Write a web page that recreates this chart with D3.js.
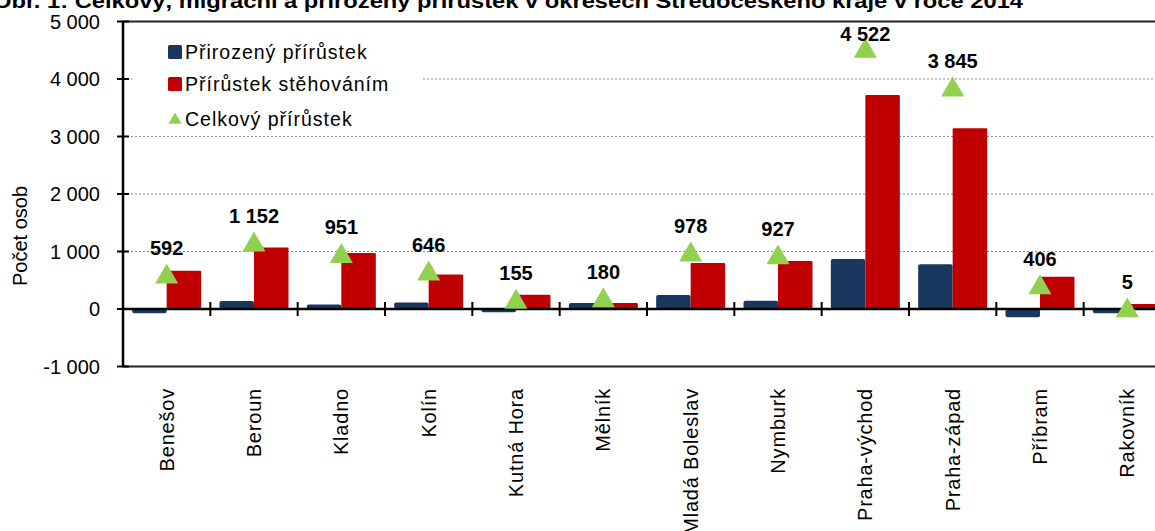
<!DOCTYPE html>
<html>
<head>
<meta charset="utf-8">
<script src="https://cdn.jsdelivr.net/npm/d3@7"></script>
<style>
  body { margin: 0; background: #fff; }
  svg { display: block; font-family: Arial, "Liberation Sans", sans-serif; }
</style>
</head>
<body>
<svg id="chart" width="1155" height="531"></svg>
<script>
// okresy Středočeského kraje
var districts = ["Benešov", "Beroun", "Kladno", "Kolín", "Kutná Hora", "Mělník",
  "Mladá Boleslav", "Nymburk", "Praha-východ", "Praha-západ", "Příbram", "Rakovník"];

// values
var natural   = [-74, 140, 80, 115, -55, 105, 245, 145, 870, 777, -145, -75];
var migration = [666, 1070, 975, 600, 250, 105, 800, 835, 3722, 3142, 562, 87];
var total     = [592, 1152, 951, 646, 155, 180, 978, 927, 4522, 3845, 406, 5];

var yTicks = [-1000, 0, 1000, 2000, 3000, 4000, 5000];
var seriesNames = ["Přirozený přírůstek", "Přírůstek stěhováním", "Celkový přírůstek"];

var blue = "#17375e", red = "#c00000", green = "#92d050";

var svg = d3.select("#chart");
var plotLeft = 123, plotRight = 1171, plotTop = 21.5, plotBottom = 366.5;

var y = d3.scaleLinear().domain([-1000, 5000]).range([plotBottom, plotTop]);
var x = d3.scaleBand().domain(districts).range([plotLeft, plotRight]);
var bw = 34.5;
var inner = (x.bandwidth() - 2 * bw) / 2;

var fmt = function(v) {
  return d3.format(",")(v).replace(/,/g, "\u00a0").replace("\u2212", "-");
};

// title (cut off at the top)
svg.append("text")
  .attr("x", -7).attr("y", 8)
  .attr("font-size", 21).attr("font-weight", "bold")
  .attr("textLength", 1030).attr("lengthAdjust", "spacingAndGlyphs")
  .text("Obr. 1: Celkový, migrační a přirozený přírůstek v okresech Středočeského kraje v roce 2014");

// gridlines
svg.append("g").selectAll("line")
  .data([1000, 2000, 3000, 4000])
  .join("line")
  .attr("x1", plotLeft).attr("x2", 1155)
  .attr("y1", function(d) { return y(d); }).attr("y2", function(d) { return y(d); })
  .attr("stroke", "#8c8c8c").attr("stroke-width", 1.2).attr("stroke-dasharray", "2,2");

// top and bottom frame lines
[5000, -1000].forEach(function(v) {
  svg.append("line")
    .attr("x1", plotLeft).attr("x2", 1155)
    .attr("y1", y(v)).attr("y2", y(v))
    .attr("stroke", "#222").attr("stroke-width", 2);
});

// bars
var g = svg.append("g");
districts.forEach(function(d, i) {
  var x0 = x(d) + inner;
  g.append("rect")
    .attr("x", x0).attr("width", bw)
    .attr("y", y(Math.max(0, natural[i])))
    .attr("height", Math.abs(y(natural[i]) - y(0)))
    .attr("rx", 2)
    .attr("fill", blue);
  g.append("rect")
    .attr("x", x0 + bw).attr("width", bw)
    .attr("y", y(Math.max(0, migration[i])))
    .attr("height", Math.abs(y(migration[i]) - y(0)))
    .attr("rx", 1)
    .attr("fill", red);
});

// y axis
var yAxis = svg.append("g");
yAxis.append("line")
  .attr("x1", plotLeft).attr("x2", plotLeft).attr("y1", plotTop).attr("y2", plotBottom)
  .attr("stroke", "#000").attr("stroke-width", 2.5);
yAxis.selectAll("line.tick")
  .data(yTicks)
  .join("line")
  .attr("class", "tick")
  .attr("x1", plotLeft - 6).attr("x2", plotLeft + 6)
  .attr("y1", function(d) { return y(d); }).attr("y2", function(d) { return y(d); })
  .attr("stroke", "#000").attr("stroke-width", 2);
yAxis.selectAll("text")
  .data(yTicks)
  .join("text")
  .attr("x", 100)
  .attr("y", function(d) { return y(d) + 7; })
  .attr("text-anchor", "end")
  .attr("font-size", 20)
  .text(fmt);

svg.append("text")
  .attr("transform", "translate(27,236) rotate(-90)")
  .attr("text-anchor", "middle")
  .attr("font-size", 20)
  .text("Počet osob");

// x axis at zero
svg.append("line")
  .attr("x1", plotLeft).attr("x2", 1155)
  .attr("y1", y(0)).attr("y2", y(0))
  .attr("stroke", "#000").attr("stroke-width", 2.5);
svg.append("g").selectAll("line")
  .data(districts.slice(1))
  .join("line")
  .attr("x1", function(d) { return x(d); }).attr("x2", function(d) { return x(d); })
  .attr("y1", y(0) - 7).attr("y2", y(0) + 7)
  .attr("stroke", "#000").attr("stroke-width", 2);

svg.append("g").selectAll("text")
  .data(districts)
  .join("text")
  .attr("transform", function(d) {
    return "translate(" + (x(d) + x.bandwidth() / 2 + 7) + ",388) rotate(-90)";
  })
  .attr("text-anchor", "end")
  .attr("font-size", 20)
  .attr("letter-spacing", 0.8)
  .text(function(d) { return d; });

// total markers and labels
var tri = d3.symbol().type(d3.symbolTriangle).size(230);
districts.forEach(function(d, i) {
  var cx = x(d) + inner + bw;
  var cy = y(total[i]);
  svg.append("path")
    .attr("d", tri)
    .attr("transform", "translate(" + cx + "," + (cy + 2) + ")")
    .attr("fill", green);
  svg.append("text")
    .attr("x", cx).attr("y", Math.max(cy - 20, y(5000) + 19))
    .attr("text-anchor", "middle")
    .attr("font-size", 20).attr("font-weight", "bold")
    .text(fmt(total[i]));
});

// legend
var lg = svg.append("g");
lg.append("rect")
  .attr("x", 132).attr("y", 30).attr("width", 290).attr("height", 103)
  .attr("fill", "#fff");
[52, 84, 119].forEach(function(ly, i) {
  if (i < 2) {
    lg.append("rect")
      .attr("x", 168).attr("y", ly - 7).attr("width", 14).attr("height", 14)
      .attr("rx", 1.5)
      .attr("fill", i === 0 ? blue : red);
  } else {
    lg.append("path")
      .attr("d", d3.symbol().type(d3.symbolTriangle).size(75))
      .attr("transform", "translate(175," + (ly + 1) + ")")
      .attr("fill", green);
  }
  lg.append("text")
    .attr("x", 185).attr("y", ly + 7)
    .attr("font-size", 19.5)
    .attr("letter-spacing", 1)
    .text(seriesNames[i]);
});
</script>
</body>
</html>
